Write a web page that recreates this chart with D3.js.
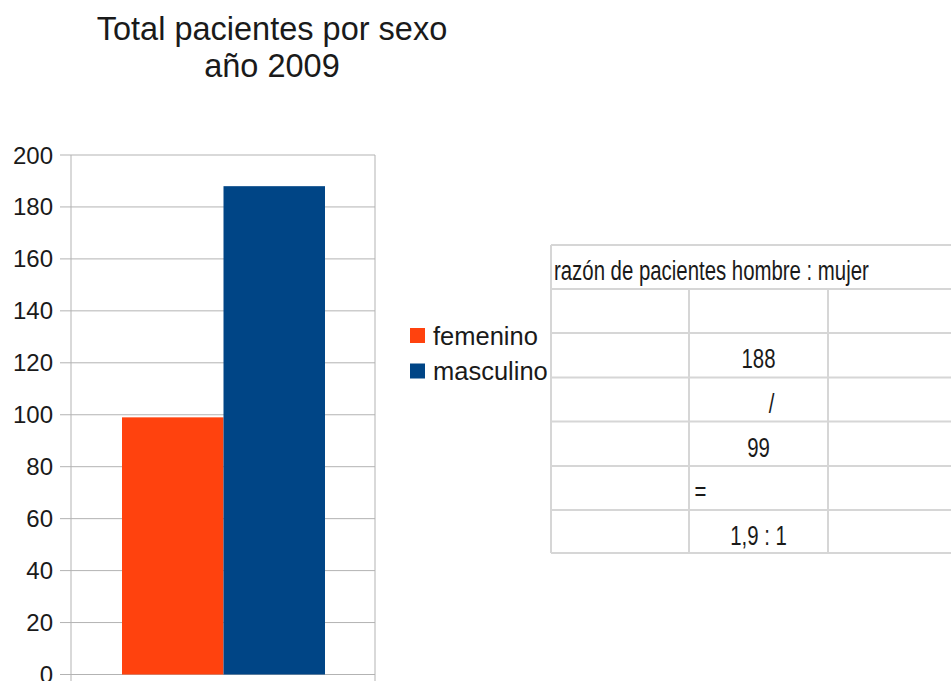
<!DOCTYPE html>
<html>
<head>
<meta charset="utf-8">
<script src="https://cdn.jsdelivr.net/npm/d3@7"></script>
<style>
  body { margin: 0; background: #fff; }
  text { font-family: "Liberation Sans", Arial, sans-serif; fill: #1a1a1a; }
</style>
</head>
<body>
<div id="chart"></div>
<script>
// chart values
var series = ["femenino", "masculino"];
var values = [99, 188];
var colors = ["#ff420e", "#004586"];
var yTicks = [0, 20, 40, 60, 80, 100, 120, 140, 160, 180, 200];
var titleLines = ["Total pacientes por sexo", "año 2009"];
var tableTitle = "razón de pacientes hombre : mujer";

(function() {
    var width = 951, height = 681;

    var svg = d3.select("#chart").append("svg")
        .attr("width", width)
        .attr("height", height);

    // plot area
    var left = 71, right = 375, top = 155, bottom = 674.5;

    var y = d3.scaleLinear().domain([0, 200]).range([bottom, top]);
    var x = d3.scaleBand().domain(series).range([122, 325]).padding(0);

    // gridlines + tick marks
    svg.append("g").selectAll("line")
        .data(yTicks)
        .enter().append("line")
        .attr("x1", 60).attr("x2", right)
        .attr("y1", function(d) { return y(d); })
        .attr("y2", function(d) { return y(d); })
        .attr("stroke", "#b3b3b3")
        .attr("stroke-width", 1);

    // tick labels
    svg.append("g").selectAll("text")
        .data(yTicks)
        .enter().append("text")
        .attr("x", 53)
        .attr("y", function(d) { return y(d) + 8.5; })
        .attr("text-anchor", "end")
        .style("font-size", "24px")
        .text(function(d) { return d; });

    // plot frame sides
    [left, right].forEach(function(xx) {
        svg.append("line")
            .attr("x1", xx).attr("x2", xx)
            .attr("y1", top).attr("y2", height)
            .attr("stroke", "#b3b3b3");
    });

    // bars
    svg.append("g").selectAll("rect")
        .data(values)
        .enter().append("rect")
        .attr("x", function(d, i) { return x(series[i]); })
        .attr("width", x.bandwidth())
        .attr("y", function(d) { return y(d); })
        .attr("height", function(d) { return y(0) - y(d); })
        .attr("fill", function(d, i) { return colors[i]; });

    // title
    svg.append("g").selectAll("text")
        .data(titleLines)
        .enter().append("text")
        .attr("x", 272)
        .attr("y", function(d, i) { return 40 + i * 37; })
        .attr("text-anchor", "middle")
        .style("font-size", "32.5px")
        .text(function(d) { return d; });

    // legend
    var legend = svg.append("g").selectAll("g")
        .data(series)
        .enter().append("g")
        .attr("transform", function(d, i) { return "translate(410," + (328 + i * 35.5) + ")"; });
    legend.append("rect")
        .attr("width", 15).attr("height", 15)
        .attr("fill", function(d, i) { return colors[i]; });
    legend.append("text")
        .attr("x", 23).attr("y", 16.5)
        .style("font-size", "25.5px")
        .text(function(d) { return d; });

    // ratio table (spreadsheet cells)
    var ratio = (values[1] / values[0]).toFixed(1).replace(".", ",");
    var cells = [
        { text: "", dx: 0, anchor: "middle" },
        { text: String(values[1]), dx: 0, anchor: "middle" },
        { text: "/", dx: 13, anchor: "middle" },
        { text: String(values[0]), dx: 0, anchor: "middle" },
        { text: "=", dx: -64, anchor: "start" },
        { text: ratio + " : 1", dx: 0, anchor: "middle" }
    ];
    var rowEdges = [245, 289, 333, 377.5, 421.5, 466, 510, 553];
    var colEdges = [551, 689, 828, 967];
    var lineColor = "#d6d6d6";
    var tbl = svg.append("g");

    rowEdges.forEach(function(r) {
        tbl.append("line")
            .attr("x1", colEdges[0]).attr("x2", width)
            .attr("y1", r).attr("y2", r)
            .attr("stroke", lineColor).attr("stroke-width", 2);
    });
    colEdges.forEach(function(c, i) {
        tbl.append("line")
            .attr("x1", c).attr("x2", c)
            .attr("y1", i === 0 ? rowEdges[0] : rowEdges[1])
            .attr("y2", rowEdges[rowEdges.length - 1])
            .attr("stroke", lineColor).attr("stroke-width", 2);
    });

    // condensed text look: squeeze horizontally
    var sx = 0.755;
    tbl.append("text")
        .attr("transform", "translate(554," + (rowEdges[0] + 35) + ") scale(" + sx + ",1)")
        .style("font-size", "27px")
        .text(tableTitle);

    var cx = (colEdges[1] + colEdges[2]) / 2;
    tbl.selectAll("text.cell")
        .data(cells)
        .enter().append("text")
        .attr("class", "cell")
        .attr("transform", function(d, i) {
            var ty = rowEdges[i + 1] + 35;
            return "translate(" + (cx + d.dx) + "," + ty + ") scale(" + sx + ",1)";
        })
        .attr("text-anchor", function(d) { return d.anchor; })
        .style("font-size", "27px")
        .text(function(d) { return d.text; });
})();
</script>
</body>
</html>
